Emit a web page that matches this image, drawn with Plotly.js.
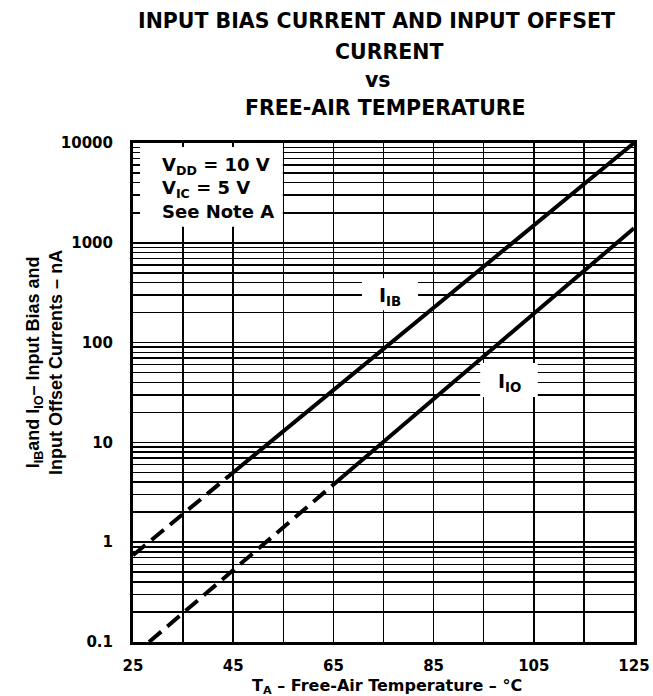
<!DOCTYPE html>
<html>
<head>
<meta charset="utf-8">
<script src="https://cdn.plot.ly/plotly-3.0.1.min.js"></script>
<style>html,body{margin:0;padding:0;background:#fff;}#chart{width:653px;height:696px;}</style>
</head>
<body>
<div id="chart"></div>
<script>
// Data
const tempIIBDashed = [25, 45];
const iibDashed = [0.74, 5.0];
const tempIIBSolid = [45, 125];
const iibSolid = [5.0, 10000];
const tempIIODashed = [28.2, 67];
const iioDashed = [0.1, 4.6];
const tempIIOSolid = [67, 125];
const iioSolid = [4.6, 1400];

const titleLines = ['INPUT BIAS CURRENT AND INPUT OFFSET', 'CURRENT', 'vs', 'FREE-AIR TEMPERATURE'];
const xTickVals = [25, 45, 65, 85, 105, 125];
const xTickText = ['25', '45', '65', '85', '105', '125'];
const yTickVals = [0.1, 1, 10, 100, 1000, 10000];
const yTickText = ['0.1', '1', '10', '100', '1000', '10000'];
const minorMultipliers = [2, 3, 4, 5, 6, 7, 8, 9];
const yMinorVals = [];
yTickVals.slice(0, -1).forEach(d => minorMultipliers.forEach(m => yMinorVals.push(d * m)));

const lineStyle = {color: '#000', width: 4};
const dashStyle = {color: '#000', width: 4, dash: '16px,8px'};
const traces = [
  {x: tempIIBDashed, y: iibDashed, mode: 'lines', line: dashStyle, hoverinfo: 'skip'},
  {x: tempIIBSolid, y: iibSolid, mode: 'lines', line: lineStyle, hoverinfo: 'skip'},
  {x: tempIIODashed, y: iioDashed, mode: 'lines', line: dashStyle, hoverinfo: 'skip'},
  {x: tempIIOSolid, y: iioSolid, mode: 'lines', line: lineStyle, hoverinfo: 'skip'}
];

const F = 'DejaVu Sans, Liberation Sans, Arial, sans-serif';
const FA = 'Liberation Sans, Arial, sans-serif';

const titleX = [0.486, 0.51, 0.49, 0.503];
const titleY = [1.2445, 1.1824, 1.1263, 1.0701];
const titleAnnotations = titleLines.map((t, i) => ({
  xref: 'paper', yref: 'paper', x: titleX[i], y: titleY[i], xanchor: 'center', yanchor: 'middle',
  showarrow: false, text: t, font: {family: F, size: 20.5, color: '#000', weight: 700}
}));

const layout = {
  width: 653, height: 696,
  margin: {l: 133, r: 19, t: 143, b: 54},
  paper_bgcolor: '#fff', plot_bgcolor: '#fff',
  showlegend: false,
  xaxis: {
    range: [25, 125],
    tickmode: 'array', tickvals: xTickVals, ticktext: xTickText,
    ticks: '', showgrid: true, gridcolor: '#000', gridwidth: 1.5,
    minor: {tick0: 25, dtick: 10, showgrid: true, gridcolor: '#000', gridwidth: 1.5, ticks: ''},
    showline: true, linecolor: '#000', linewidth: 3, mirror: true,
    zeroline: false,
    tickfont: {family: F, size: 15, color: '#000', weight: 700},
    ticklabelstandoff: 8,
    fixedrange: true
  },
  yaxis: {
    type: 'log', range: [-1, 4],
    tickmode: 'array', tickvals: yTickVals, ticktext: yTickText,
    ticks: '', showgrid: true, gridcolor: '#000', gridwidth: 1.5,
    minor: {tickmode: 'array', tickvals: yMinorVals, showgrid: true, gridcolor: '#000', gridwidth: 1.5, ticks: ''},
    showline: true, linecolor: '#000', linewidth: 3, mirror: true,
    zeroline: false,
    tickfont: {family: F, size: 15, color: '#000', weight: 700},
    ticklabelstandoff: 14,
    fixedrange: true
  },
  shapes: [
    {type: 'rect', xref: 'paper', yref: 'paper', x0: 0.014, x1: 0.299, y0: 0.832, y1: 0.992, fillcolor: '#fff', line: {width: 0}, layer: 'above'},
    {type: 'rect', xref: 'paper', yref: 'paper', x0: 0.457, x1: 0.569, y0: 0.665, y1: 0.729, fillcolor: '#fff', line: {width: 0}, layer: 'above'},
    {type: 'rect', xref: 'paper', yref: 'paper', x0: 0.693, x1: 0.808, y0: 0.491, y1: 0.559, fillcolor: '#fff', line: {width: 0}, layer: 'above'}
  ],
  annotations: titleAnnotations.concat([
    {xref: 'paper', yref: 'paper', x: 0.054, y: 0.91, xanchor: 'left', yanchor: 'middle', align: 'left', showarrow: false,
     text: 'V<sub>DD</sub> = 10 V<br>V<sub>IC</sub> = 5 V<br>See Note A',
     font: {family: F, size: 18, color: '#000', weight: 700}},
    {xref: 'paper', yref: 'paper', x: 0.513, y: 0.693, xanchor: 'center', yanchor: 'middle', showarrow: false,
     text: 'I<sub>IB</sub>', font: {family: F, size: 19, color: '#000', weight: 700}},
    {xref: 'paper', yref: 'paper', x: 0.752, y: 0.521, xanchor: 'center', yanchor: 'middle', showarrow: false,
     text: 'I<sub>IO</sub>', font: {family: F, size: 19, color: '#000', weight: 700}},
    {xref: 'paper', yref: 'paper', x: -0.178, y: 0.561, xanchor: 'center', yanchor: 'middle', showarrow: false, textangle: -90,
     text: 'I<sub>IB</sub>and I<sub>IO</sub>– Input Bias and<br>Input Offset Currents – nA',
     font: {family: FA, size: 18, color: '#000', weight: 700}},
    {xref: 'paper', yref: 'paper', x: 0.507, y: -0.090, xanchor: 'center', yanchor: 'middle', showarrow: false,
     text: 'T<sub>A</sub> – Free-Air Temperature – °C',
     font: {family: F, size: 16, color: '#000', weight: 700}}
  ])
};

Plotly.newPlot('chart', traces, layout, {displayModeBar: false, staticPlot: true});
</script>
</body>
</html>
